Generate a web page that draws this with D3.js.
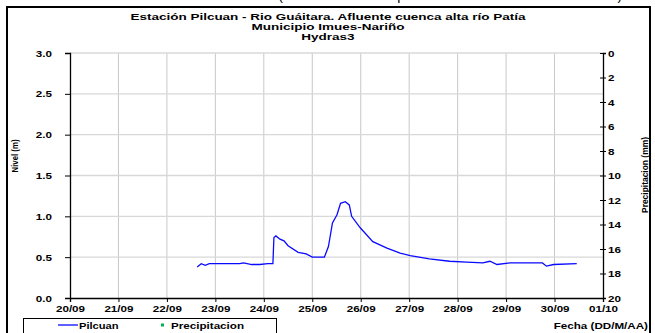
<!DOCTYPE html>
<html><head><meta charset="utf-8">
<script src="https://cdn.jsdelivr.net/npm/d3@7"></script>
<style>
body{margin:0;background:#fff;}
svg{display:block;font-family:"Liberation Sans",Arial,sans-serif;}
</style></head>
<body>
<script>
const titleLines = ["Estación Pilcuan - Rio Guáitara. Afluente cuenca alta río Patía","Municipio Imues-Nariño","Hydras3"];
const xTickLabels = ["20/09","21/09","22/09","23/09","24/09","25/09","26/09","27/09","28/09","29/09","30/09","01/10"];
const yTicks = [0,0.5,1,1.5,2,2.5,3];
const rainTicks = [0,2,4,6,8,10,12,14,16,18,20];
const times = ["2010-09-22T15:00","2010-09-22T17:00","2010-09-22T19:00","2010-09-22T21:00","2010-09-23T00:00","2010-09-23T06:00","2010-09-23T12:00","2010-09-23T14:00","2010-09-23T18:00","2010-09-23T22:00","2010-09-24T02:00","2010-09-24T04:30",
"2010-09-24T05:00","2010-09-24T06:00","2010-09-24T08:00","2010-09-24T10:00","2010-09-24T12:00","2010-09-24T17:00","2010-09-24T21:00","2010-09-25T00:00","2010-09-25T06:00",
"2010-09-25T08:00","2010-09-25T10:00","2010-09-25T12:15","2010-09-25T14:00","2010-09-25T16:20","2010-09-25T18:20","2010-09-25T19:30","2010-09-25T23:45","2010-09-26T06:00","2010-09-26T13:00","2010-09-26T19:30",
"2010-09-27T00:30","2010-09-27T10:00","2010-09-27T20:00","2010-09-28T04:30","2010-09-28T12:30","2010-09-28T16:00","2010-09-28T19:30","2010-09-29T02:00","2010-09-29T12:00","2010-09-29T18:00","2010-09-29T20:00","2010-09-29T23:30","2010-09-30T11:00"];
const pilcuan = [0.38,0.42,0.40,0.42,0.42,0.42,0.42,0.43,0.41,0.41,0.42,0.42,
0.74,0.76,0.72,0.70,0.64,0.56,0.54,0.50,0.50,
0.63,0.92,1.02,1.16,1.18,1.14,1.00,0.86,0.69,0.61,0.55,
0.52,0.48,0.45,0.44,0.43,0.45,0.41,0.43,0.43,0.43,0.39,0.41,0.42];
const precipitacion = [];

const W=655,H=333;
const svg=d3.select("body").append("svg").attr("width",W).attr("height",H);
svg.append("rect").attr("width",W).attr("height",H).attr("fill","#fff");

function stretch(sel,k){
  sel.each(function(){
    const len=this.getComputedTextLength();
    d3.select(this).attr("textLength",len*k).attr("lengthAdjust","spacingAndGlyphs");
  });
}

// clipped top text
svg.append("text").attr("x",400).attr("y",-0.5).attr("text-anchor","middle").attr("font-size",14)
  .text("del río Guáitara (estación Pilcuan - periodo de monitoreo Imues-Nariño)");

svg.append("rect").attr("x",7).attr("y",7).attr("width",643).attr("height",340)
  .attr("fill","none").attr("stroke","#000").attr("stroke-width",2);

const L=70,R=603,T=53,B=298;
const parse=d3.timeParse("%Y-%m-%dT%H:%M");
const x=d3.scaleTime().domain([parse("2010-09-20T00:00"),parse("2010-10-01T00:00")]).range([L,R]);
const y=d3.scaleLinear().domain([0,3]).range([B,T]);
const yr=d3.scaleLinear().domain([0,20]).range([T,B]);
const dayTicks=d3.timeDay.range(parse("2010-09-20T00:00"),parse("2010-10-01T01:00"));

// grid
svg.append("g").selectAll("line").data(dayTicks.slice(1,-1)).join("line")
  .attr("x1",d=>x(d)).attr("x2",d=>x(d)).attr("y1",T).attr("y2",B)
  .attr("stroke","#c8c8c8").attr("stroke-width",1);
svg.append("g").selectAll("line").data(yTicks.slice(1)).join("line")
  .attr("x1",L).attr("x2",R).attr("y1",d=>y(d)).attr("y2",d=>y(d))
  .attr("stroke","#d8d8d8").attr("stroke-width",1.3);

// title
const tt=svg.append("g").selectAll("text").data(titleLines).join("text")
  .attr("x",328).attr("y",(d,i)=>20+i*10).attr("text-anchor","middle")
  .attr("font-size",9.3).attr("font-weight","bold").text(d=>d);
stretch(tt,1.45);

// axes
const fmt=d3.format(".1f");
const gl=svg.append("g").attr("transform",`translate(${L},0)`)
  .call(d3.axisLeft(y).tickValues(yTicks).tickFormat(fmt).tickSize(5).tickPadding(13));
const gb=svg.append("g").attr("transform",`translate(0,${B})`)
  .call(d3.axisBottom(x).tickValues(dayTicks).tickFormat((d,i)=>xTickLabels[i]).tickSize(4).tickPadding(2));
const gr=svg.append("g").attr("transform",`translate(${R},0)`)
  .call(d3.axisRight(yr).tickValues(rainTicks).tickSize(3).tickPadding(2));
gr.selectAll(".tick line").attr("x1",-3);
[gl,gb,gr].forEach(g=>{
  g.select(".domain").attr("stroke","#000").attr("stroke-width",1.3);
  g.selectAll(".tick line").attr("stroke","#000");
  g.selectAll("text").attr("font-size",9.7).attr("font-weight","bold").attr("fill","#000")
   .attr("font-family","'Liberation Sans',Arial,sans-serif");
  stretch(g.selectAll("text"),1.2);
});
gb.selectAll("text").attr("dy","0.85em");

// axis titles
svg.append("text").attr("transform","translate(18,156) rotate(-90)").attr("text-anchor","middle")
  .attr("font-size",8.5).attr("font-weight","bold").attr("textLength",33).attr("lengthAdjust","spacingAndGlyphs").text("Nivel (m)");
svg.append("text").attr("transform","translate(648,175) rotate(-90)").attr("text-anchor","middle")
  .attr("font-size",8.5).attr("font-weight","bold").attr("textLength",76).attr("lengthAdjust","spacingAndGlyphs").text("Precipitacion (mm)");
const ft=svg.append("text").attr("x",648).attr("y",329).attr("text-anchor","end")
  .attr("font-size",9.7).attr("font-weight","bold").text("Fecha (DD/M/AA)");
stretch(ft,1.2);

// line
const data=times.map((t,i)=>({t:parse(t),v:pilcuan[i]}));
svg.append("path").datum(data).attr("fill","none").attr("stroke","#0a0aff").attr("stroke-width",1.3)
  .attr("d",d3.line().x(d=>x(d.t)).y(d=>y(d.v)));
svg.append("g").selectAll("rect").data(precipitacion).join("rect");

// legend
svg.append("rect").attr("x",23.5).attr("y",318.5).attr("width",253).attr("height",20)
  .attr("fill","#fff").attr("stroke","#000").attr("stroke-width",1);
svg.append("line").attr("x1",58).attr("x2",78).attr("y1",325).attr("y2",325).attr("stroke","#0a0aff").attr("stroke-width",1.3);
const lt1=svg.append("text").attr("x",79).attr("y",329).attr("font-size",9.7).attr("font-weight","bold").text("Pilcuan");
svg.append("rect").attr("x",161).attr("y",323.5).attr("width",3).attr("height",3).attr("fill","#00b050");
const lt2=svg.append("text").attr("x",171).attr("y",329).attr("font-size",9.7).attr("font-weight","bold").text("Precipitacion");
stretch(lt1,1.15); stretch(lt2,1.2);
</script>
</body></html>
